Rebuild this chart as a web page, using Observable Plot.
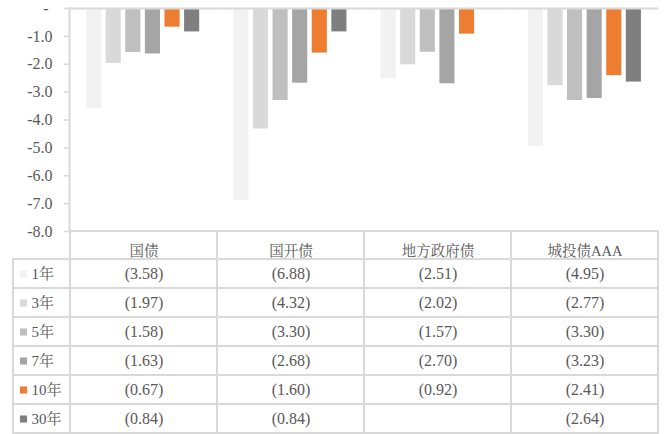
<!DOCTYPE html>
<html>
<head>
<meta charset="utf-8">
<script src="https://cdn.jsdelivr.net/npm/d3@7"></script>
<script src="https://cdn.jsdelivr.net/npm/@observablehq/plot@0.6"></script>
<style>
  html, body { margin: 0; padding: 0; background: #fff; }
  #wrap { position: relative; width: 665px; height: 434px; overflow: hidden; }
  #bars { position: absolute; left: 0; top: 0; z-index: 2; }
  #table { position: absolute; left: 12px; top: 230px; z-index: 1; }
  #wrap svg, #wrap svg text { font-family: "Liberation Serif", "Noto Serif CJK SC", serif !important; }
  #wrap svg { overflow: visible; }
</style>
</head>
<body>
<div id="wrap"><div id="bars"></div><div id="table"></div></div>
<script>
const categories = ["国债", "国开债", "地方政府债", "城投债AAA"];
const series = ["1年", "3年", "5年", "7年", "10年", "30年"];
const colors = ["#f2f2f2", "#d9d9d9", "#bfbfbf", "#a5a5a5", "#ed7d31", "#7f7f7f"];
const v1 = [-3.58, -6.88, -2.51, -4.95];
const v3 = [-1.97, -4.32, -2.02, -2.77];
const v5 = [-1.58, -3.30, -1.57, -3.30];
const v7 = [-1.63, -2.68, -2.70, -3.23];
const v10 = [-0.67, -1.60, -0.92, -2.41];
const v30 = [-0.84, -0.84, null, -2.64];
const yTicks = [-8, -7, -6, -5, -4, -3, -2, -1, 0];

const seriesValues = [v1, v3, v5, v7, v10, v30];
const data = [];
series.forEach((s, i) => categories.forEach((c, j) => {
  data.push({series: s, category: c, value: seriesValues[i][j]});
}));
const present = data.filter(d => d.value != null);

const grid = "#d9d9d9";
const textColor = "#595959";

const bars = Plot.plot({
  width: 665, height: 232,
  marginLeft: 69, marginRight: 7, marginTop: 8, marginBottom: 1,
  style: {fontSize: "16px", color: textColor, background: "transparent", overflow: "visible"},
  fx: {domain: categories, padding: 0, round: false, axis: null},
  x: {domain: series, paddingInner: 0.23, paddingOuter: 0.87, round: false, axis: null},
  y: {domain: [-8, 0], axis: null},
  color: {domain: series, range: colors},
  marks: [
    Plot.barY(present, {fx: "category", x: "series", y: "value", fill: "series"}),
    Plot.ruleY([0], {stroke: grid, strokeWidth: 2}),
    Plot.frame({anchor: "left", facetAnchor: "left", stroke: grid, strokeWidth: 2}),
    Plot.axisY({
      ticks: yTicks,
      label: null,
      tickFormat: d => d === 0 ? "-\u00a0" : d.toFixed(1),
      tickSize: 5, tickPadding: 12,
      stroke: grid, strokeWidth: 1.5, fill: textColor
    })
  ]
});
document.getElementById("bars").appendChild(bars);

const table = Plot.plot({
  width: 653, height: 211,
  marginLeft: 1, marginRight: 7, marginTop: 1, marginBottom: 6.4,
  style: {fontSize: "16px", color: textColor, background: "transparent", overflow: "visible"},
  x: {domain: categories, range: [57, 646], padding: 0, axis: null},
  y: {domain: series, range: [27, 204.6], padding: 0, axis: null},
  color: {domain: series, range: colors},
  marks: [
    Plot.cell(categories, {x: d => d, fill: "none", stroke: grid, strokeWidth: 2}),
    Plot.cell(series, {y: d => d, fill: "none", stroke: grid, strokeWidth: 2}),
    Plot.cell(data, {x: "category", y: "series", fill: "none", stroke: grid, strokeWidth: 2}),
    Plot.text(categories, {x: d => d, frameAnchor: "top", dy: 14, text: d => d, fontSize: 14.5}),
    Plot.dot(series, {y: d => d, frameAnchor: "left", dx: 10, symbol: "square", r: 4, fill: d => d, stroke: null}),
    Plot.text(series, {y: d => d, frameAnchor: "left", dx: 18, textAnchor: "start", text: d => d, fontSize: 15}),
    Plot.text(present, {x: "category", y: "series", text: d => `(${Math.abs(d.value).toFixed(2)})`})
  ]
});
document.getElementById("table").appendChild(table);
</script>
</body>
</html>
